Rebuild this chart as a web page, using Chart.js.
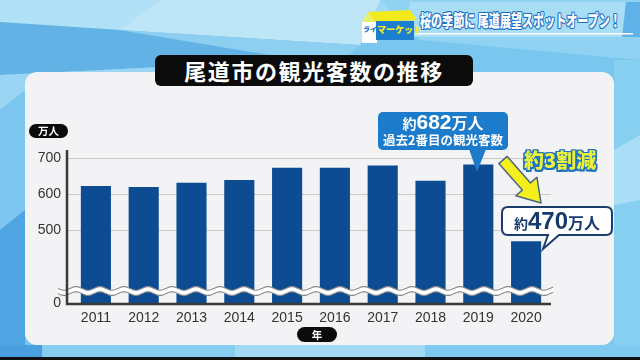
<!DOCTYPE html>
<html><head><meta charset="utf-8">
<script src="https://cdn.jsdelivr.net/npm/chart.js@4"></script>
<style>
html,body{margin:0;padding:0;width:640px;height:360px;overflow:hidden;background:#79c6ee;}
#stage{position:relative;width:640px;height:360px;overflow:hidden;font-family:"Noto Sans CJK JP","Noto Sans",sans-serif;}
.abs{position:absolute;}
#panel{left:25px;top:72px;width:589px;height:273px;background:#f3f3f5;border-radius:12px;}
#title{left:155px;top:55px;width:318px;height:31px;background:#0b0b0b;border-radius:6px;color:#fff;font-weight:700;font-size:22px;line-height:31px;text-align:center;letter-spacing:1.6px;}
#chart{left:0;top:0;}
#ann{left:0;top:0;}
.pill{background:#0b0b0b;color:#fff;font-weight:700;text-align:center;}
#unit{left:29px;top:124px;width:39px;height:14px;border-radius:7px;font-size:10.5px;line-height:14px;}
#yr{left:297px;top:327px;width:40px;height:15px;border-radius:8px;font-size:10.5px;line-height:15px;}
#c682{left:378px;top:111px;width:130px;text-align:center;color:#fff;font-weight:700;}
#c682 .l1{height:22px;line-height:22px;white-space:nowrap;}
#c682 .l2{font-size:12.5px;line-height:14px;white-space:nowrap;}
.s{font-size:14px;}
.b{font-size:21px;font-family:"Liberation Sans",sans-serif;font-weight:700;}
.m{font-size:16px;}
#c470{left:502px;top:207px;width:110px;height:28px;line-height:28px;text-align:center;color:#163a6d;font-weight:700;white-space:nowrap;}
#c470 .b{font-size:24px;}
#cut{left:524px;top:145px;font-size:20px;font-weight:900;color:#eaf23c;white-space:nowrap;
 text-shadow:1.5px 0 0 #1e72c4,-1.5px 0 0 #1e72c4,0 1.5px 0 #1e72c4,0 -1.5px 0 #1e72c4,1.5px 1.5px 0 #1e72c4,-1.5px -1.5px 0 #1e72c4,1.5px -1.5px 0 #1e72c4,-1.5px 1.5px 0 #1e72c4;}
#logo1{left:363px;top:24px;width:14px;font-size:7px;color:#1d6fc4;font-weight:900;white-space:nowrap;transform:skewX(-10deg);}
#logo2{left:377px;top:23px;font-size:9px;color:#f3ea1a;font-weight:900;white-space:nowrap;}
#banner{left:420px;top:7px;font-size:17px;font-weight:900;color:#fff;white-space:nowrap;transform-origin:0 0;transform:scaleX(0.65);
 text-shadow:1.2px 0 0 #1d6fc4,-1.2px 0 0 #1d6fc4,0 1.2px 0 #1d6fc4,0 -1.2px 0 #1d6fc4,1px 1px 0 #1d6fc4,-1px -1px 0 #1d6fc4,1px -1px 0 #1d6fc4,-1px 1px 0 #1d6fc4;}
</style></head>
<body>
<div id="stage">
<svg class="abs" style="left:0;top:0" width="640" height="360">
  <rect width="640" height="360" fill="#79c6ee"/>
  <polygon points="0,0 640,0 640,30 0,30" fill="#9fd9f4"/>
  <polygon points="0,0 160,0 120,30 0,22" fill="#b0e1f6"/>
  <polygon points="160,0 380,0 360,45 120,30" fill="#bfe6f7"/>
  <polygon points="0,22 120,30 300,60 0,75" fill="#62b2e6"/>
  <polygon points="120,30 360,45 330,72 200,72 300,60" fill="#8ccff1"/>
  <polygon points="0,75 300,60 200,72 25,90 0,110" fill="#9ad6f3"/>
  <polygon points="0,110 25,100 25,345 0,345" fill="#7cc6ef"/>
  <polygon points="0,230 25,210 25,345 0,345" fill="#4ea5e2"/>
  <polygon points="380,0 640,0 640,60 420,40" fill="#8fd2f2"/>
  <polygon points="614,60 640,60 640,345 614,345" fill="#86cff1"/>
  <polygon points="614,150 640,135 640,200 614,205" fill="#a9def6"/>
  <rect x="0" y="345" width="42" height="13" fill="#4a9fe0"/>
  <rect x="42" y="345" width="193" height="13" fill="#86cdf1"/>
  <rect x="235" y="345" width="190" height="13" fill="#a2daf5"/>
  <rect x="425" y="345" width="215" height="13" fill="#80c9f0"/>
  <rect x="0" y="357" width="640" height="3" fill="#111"/>
  <polygon points="410,2 636,2 636,37 405,37" fill="#a7def6"/>
  <polygon points="626,2 640,2 640,37 622,37" fill="#5fb2e8"/>
  <rect x="415" y="33" width="218" height="1.5" fill="#ffffff"/>
  <polygon points="368,12 410,10 417,20 375,22" fill="#f3ea1a"/>
  <rect x="362" y="22" width="15" height="21" fill="#ffffff"/>
  <rect x="376" y="21" width="38" height="19" fill="#1d7ed0"/>
  <polygon points="362,22 368,12 375,22" fill="#e6f36a"/>
</svg>
<div id="panel" class="abs"></div>
<div id="title" class="abs">尾道市の観光客数の推移</div>
<div id="logo1" class="abs">ライブ!</div>
<div id="logo2" class="abs">マーケット</div>
<div id="banner" class="abs">桜の季節に 尾道展望スポットオープン！</div>
<canvas id="chart" class="abs" width="640" height="360"></canvas>
<svg id="ann" class="abs" width="640" height="360">
  <rect x="378" y="112" width="130" height="38" rx="5" fill="#1c7bcb"/>
  <polygon points="469,149 486,149 477,172" fill="#1c7bcb"/>
  <polygon points="507.1,156.4 530.5,182.9 536.9,177.2 541,203 515.9,195.8 522.3,190.1 498.9,163.6" fill="#f6ef1e" stroke="#4a6585" stroke-width="1.5" stroke-linejoin="round"/>
  <path d="M508,207 H606 Q612,207 612,213 V229 Q612,235 606,235 H559 L543,249 L548,235 H508 Q502,235 502,229 V213 Q502,207 508,207 Z" fill="#ffffff" stroke="#1b3d6e" stroke-width="2"/>
</svg>
<div id="unit" class="abs pill">万人</div>
<div id="yr" class="abs pill">年</div>
<div id="c682" class="abs"><div class="l1"><span class="s">約</span><span class="b">682</span><span class="m">万人</span></div><div class="l2">過去2番目の観光客数</div></div>
<div id="cut" class="abs">約3割減</div>
<div id="c470" class="abs"><span class="s">約</span><span class="b">470</span><span class="m">万人</span></div>
</div>
<script>
const years = ['2011','2012','2013','2014','2015','2016','2017','2018','2019','2020'];
const visitors = [623, 620, 632, 639, 673, 673, 679, 637, 682, 470];
const yTickValues = [300, 500, 600, 700];   // 300 = broken-axis floor, shown as "0"
const yTickLabels = ['0', '500', '600', '700'];
const yMin = 300;
const yMax = 722;

const axisDecor = {
  id: 'axisDecor',
  beforeDatasetsDraw(chart) {
    const {ctx, chartArea: a, scales: {y}} = chart;
    ctx.save();
    ctx.strokeStyle = '#c9c9c9';
    ctx.lineWidth = 1;
    yTickValues.slice(1).forEach(v => {
      const py = Math.round(y.getPixelForValue(v)) + 0.5;
      ctx.beginPath(); ctx.moveTo(a.left - 5, py); ctx.lineTo(a.right + 1, py); ctx.stroke();
    });
    ctx.restore();
  },
  afterDatasetsDraw(chart) {
    const {ctx, chartArea: a} = chart;
    const yc = a.bottom - 12, x0 = a.left - 14, x1 = a.right + 3, per = 24, amp = 1.8, gap = 2.6;
    const f = x => amp * Math.sin((x - x0) / per * 2 * Math.PI);
    ctx.save();
    ctx.beginPath();
    for (let x = x0; x <= x1; x++) ctx.lineTo(x, yc - gap + f(x));
    for (let x = x1; x >= x0; x--) ctx.lineTo(x, yc + gap + f(x));
    ctx.closePath();
    ctx.fillStyle = '#ffffff'; ctx.fill();
    ctx.strokeStyle = '#8a8a8a'; ctx.lineWidth = 1.1;
    ctx.beginPath();
    for (let x = x0; x <= x1; x++) ctx.lineTo(x, yc - gap + f(x));
    ctx.stroke();
    ctx.beginPath();
    for (let x = x0; x <= x1; x++) ctx.lineTo(x, yc + gap + f(x));
    ctx.stroke();
    ctx.strokeStyle = '#3a3a3a'; ctx.lineWidth = 2.5;
    ctx.beginPath();
    ctx.moveTo(a.left - 5, a.top);
    ctx.lineTo(a.left - 5, a.bottom + 1);
    ctx.lineTo(a.right + 1, a.bottom + 1);
    ctx.stroke();
    ctx.restore();
  }
};

new Chart(document.getElementById('chart'), {
  type: 'bar',
  data: {
    labels: years,
    datasets: [{
      data: visitors,
      backgroundColor: '#0d4c92',
      barPercentage: 0.63,
      categoryPercentage: 1
    }]
  },
  options: {
    responsive: false,
    animation: false,
    devicePixelRatio: 1,
    layout: {padding: {top: 150, right: 90, left: 0, bottom: 0}},
    plugins: {legend: {display: false}, tooltip: {enabled: false}, title: {display: false}},
    scales: {
      x: {
        grid: {display: false, drawTicks: false},
        border: {display: false},
        ticks: {color: '#333', font: {family: 'Liberation Sans', size: 14}, padding: 7, maxRotation: 0},
        afterFit: s => { s.height = 57; }
      },
      y: {
        min: yMin, max: yMax, beginAtZero: false,
        grid: {display: false, drawTicks: false},
        border: {display: false},
        afterBuildTicks: s => { s.ticks = yTickValues.map(v => ({value: v})); },
        ticks: {
          color: '#333', font: {family: 'Liberation Sans', size: 14}, padding: 11,
          callback: v => yTickLabels[yTickValues.indexOf(v)]
        },
        afterFit: s => { s.width = 72; }
      }
    }
  },
  plugins: [axisDecor]
});
</script>
</body></html>
